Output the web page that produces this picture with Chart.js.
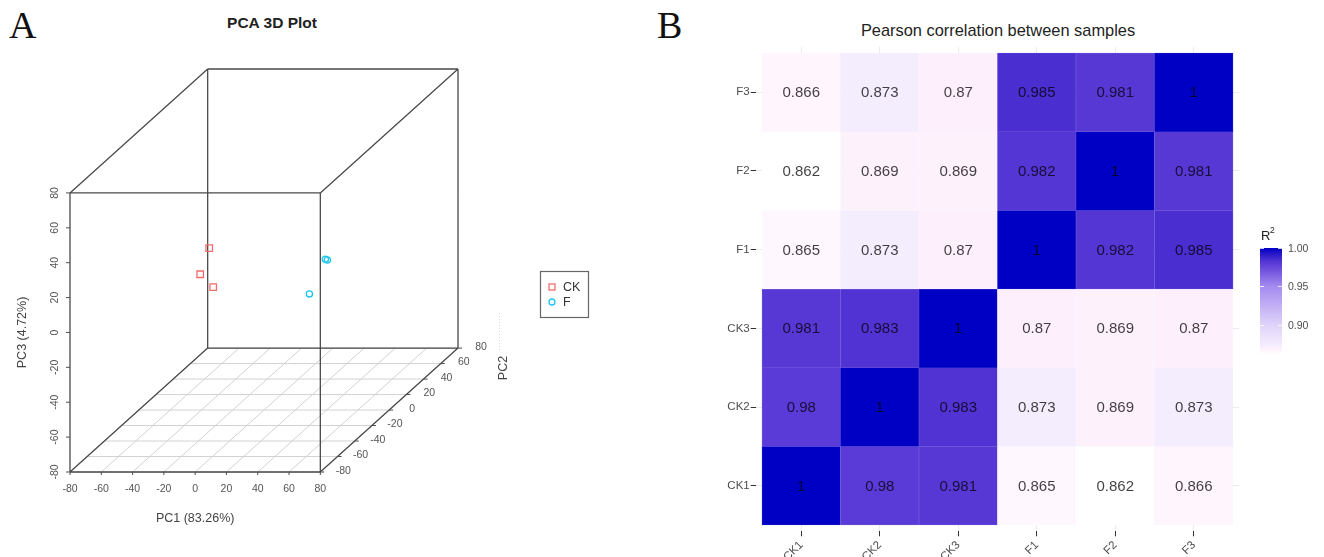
<!DOCTYPE html>
<html>
<head>
<meta charset="utf-8">
<script src="https://cdn.jsdelivr.net/npm/chart.js@4.4.0/dist/chart.umd.min.js"></script>
<style>
  body { margin: 0; width: 1324px; height: 557px; background: #fff; position: relative; overflow: hidden;
         font-family: 'Liberation Sans', Arial, sans-serif; }
  .letter { position: absolute; font-family: 'Liberation Serif', 'Times New Roman', serif; font-size: 38px; line-height: 1; color: #111; }
  .title { position: absolute; transform: translateX(-50%); white-space: nowrap; line-height: 1; color: #222; }
  canvas { position: absolute; top: 0; }
</style>
</head>
<body>
<div class="letter" style="left:9px;top:6px">A</div>
<div class="letter" style="left:657px;top:6px">B</div>
<div class="title" style="left:272px;top:15px;font-weight:bold;font-size:15.5px">PCA 3D Plot</div>
<div class="title" style="left:998px;top:22px;font-size:16.4px">Pearson correlation between samples</div>
<canvas id="pca" style="left:0" width="640" height="557"></canvas>
<canvas id="heat" style="left:650px" width="674" height="557"></canvas>

<script>
// PCA scores
const pcaTicks = [-80, -60, -40, -20, 0, 20, 40, 60, 80];
const ckPC1 = [-48, -52, -47];
const ckPC2 = [23.6, 20.4, 26.4];
const ckPC3 = [2.3, -11.2, -21.2];
const fPC1 = [49, 50, 48];
const fPC2 = [-17.8, -17.3, -34.5];
const fPC3 = [14.4, 13.7, 1.9];

// Pearson correlation, one array per row (bottom to top)
const sampleNames = ['CK1', 'CK2', 'CK3', 'F1', 'F2', 'F3'];
const rCK1 = [1, 0.98, 0.981, 0.865, 0.862, 0.866];
const rCK2 = [0.98, 1, 0.983, 0.873, 0.869, 0.873];
const rCK3 = [0.981, 0.983, 1, 0.87, 0.869, 0.87];
const rF1 = [0.865, 0.873, 0.87, 1, 0.982, 0.985];
const rF2 = [0.862, 0.869, 0.869, 0.982, 1, 0.981];
const rF3 = [0.866, 0.873, 0.87, 0.985, 0.981, 1];
const barTicks = [0.90, 0.95, 1.00];

const FONT = '"Liberation Sans", Arial, sans-serif';

// === PCA 3D (oblique projection, like scatterplot3d) ===
const LO = pcaTicks[0], HI = pcaTicks[pcaTicks.length - 1];
const DX = 0.55, DY = 0.444;   // depth shift per PC2 unit
const proj = (a, b, c) => ({ x: a + (b - LO) * DX, y: c + (b - LO) * DY });
const GAP = { x: null, y: null };

const floor = [];
pcaTicks.forEach(t => {
  floor.push(proj(LO, t, LO), proj(HI, t, LO), GAP);
  floor.push(proj(t, LO, LO), proj(t, HI, LO), GAP);
});

const edges = [];
[LO, HI].forEach(u => [LO, HI].forEach(v => {
  edges.push(proj(LO, u, v), proj(HI, u, v), GAP);
  edges.push(proj(u, LO, v), proj(u, HI, v), GAP);
  edges.push(proj(u, v, LO), proj(u, v, HI), GAP);
}));

const ckPts = ckPC1.map((p, i) => proj(p, ckPC2[i], ckPC3[i]));
const fPts = fPC1.map((p, i) => proj(p, fPC2[i], fPC3[i]));

const CK_COL = '#f36b6b', F_COL = '#1cc6f0';

const pcaAxes = {
  id: 'pcaAxes',
  afterDatasetsDraw(chart) {
    const { ctx, scales: { x, y } } = chart;
    const at = (a, b, c) => { const p = proj(a, b, c); return [x.getPixelForValue(p.x), y.getPixelForValue(p.y)]; };
    const line = (x1, y1, x2, y2) => { ctx.beginPath(); ctx.moveTo(x1, y1); ctx.lineTo(x2, y2); ctx.stroke(); };
    ctx.save();
    ctx.strokeStyle = '#4d4d4d';
    ctx.lineWidth = 1;
    ctx.fillStyle = '#555';
    ctx.font = '10.5px ' + FONT;
    ctx.textAlign = 'center';
    ctx.textBaseline = 'middle';
    pcaTicks.forEach(t => {
      let [px, py] = at(t, LO, LO);
      line(px, py, px, py + 3);
      ctx.fillText(String(t), px, py + 17);

      [px, py] = at(LO, LO, t);
      line(px - 4, py, px, py);
      ctx.save();
      ctx.translate(px - 15, py);
      ctx.rotate(-Math.PI / 2);
      ctx.fillText(String(t), 0, 0);
      ctx.restore();

      [px, py] = at(HI, t, LO);
      line(px, py, px + 4, py);
      ctx.fillText(String(t), px + 23, py - 1);
    });

    // axis titles
    ctx.fillStyle = '#444';
    ctx.font = '12.5px ' + FONT;
    const [bx0] = at(LO, LO, LO), [bx1, by] = at(HI, LO, LO);
    ctx.fillText('PC1 (83.26%)', (bx0 + bx1) / 2, by + 47);
    const [lx, ly0] = at(LO, LO, LO), [, ly1] = at(LO, LO, HI);
    ctx.save();
    ctx.translate(lx - 47, (ly0 + ly1) / 2);
    ctx.rotate(-Math.PI / 2);
    ctx.fillText('PC3 (4.72%)', 0, 0);
    ctx.restore();
    ctx.save();
    ctx.translate(504, 368);
    ctx.rotate(-Math.PI / 2);
    ctx.fillText('PC2', 0, 0);
    ctx.restore();
    ctx.strokeStyle = '#d8d8d8';
    ctx.setLineDash([1, 2]);
    line(499.5, 313, 499.5, 352);
    ctx.setLineDash([]);

    // legend
    ctx.strokeStyle = '#666';
    ctx.lineWidth = 1.2;
    ctx.strokeRect(540.5, 271.5, 48, 46);
    ctx.lineWidth = 1.3;
    ctx.strokeStyle = CK_COL;
    ctx.strokeRect(549, 284, 6, 6);
    ctx.strokeStyle = F_COL;
    ctx.beginPath(); ctx.arc(552, 302, 3, 0, Math.PI * 2); ctx.stroke();
    ctx.fillStyle = '#333';
    ctx.textAlign = 'left';
    ctx.font = '12.5px ' + FONT;
    ctx.fillText('CK', 563, 287.5);
    ctx.fillText('F', 563, 302.5);
    ctx.restore();
  }
};

new Chart(document.getElementById('pca'), {
  type: 'scatter',
  data: {
    datasets: [
      { data: ckPts, pointStyle: 'rect', pointRadius: 4.6, pointBorderWidth: 1.3,
        pointBorderColor: CK_COL, pointBackgroundColor: 'rgba(0,0,0,0)', clip: false },
      { data: fPts, pointStyle: 'circle', pointRadius: 3.1, pointBorderWidth: 1.3,
        pointBorderColor: F_COL, pointBackgroundColor: 'rgba(0,0,0,0)', clip: false },
      { data: edges, showLine: true, pointRadius: 0, borderColor: '#4a4a4a', borderWidth: 1.3, clip: false },
      { data: floor, showLine: true, pointRadius: 0, borderColor: '#d2d2d2', borderWidth: 1, clip: false }
    ]
  },
  options: {
    responsive: false, animation: false, events: [], devicePixelRatio: 1,
    layout: { padding: { left: 70, right: 182, top: 69, bottom: 85 } },
    scales: {
      x: { type: 'linear', display: false, min: LO, max: HI + (HI - LO) * DX },
      y: { type: 'linear', display: false, min: LO, max: HI + (HI - LO) * DY }
    },
    plugins: { legend: { display: false }, tooltip: { enabled: false } }
  },
  plugins: [pcaAxes]
});

// === Correlation heatmap ===
const corrRows = [rCK1, rCK2, rCK3, rF1, rF2, rF3];
const cells = [];
corrRows.forEach((row, r) => row.forEach((v, c) => cells.push({ x: c + 0.5, y: [r, r + 1], v })));

const ramp = [
  [0.862, [255, 255, 255]],
  [0.866, [254, 245, 253]],
  [0.870, [253, 240, 252]],
  [0.873, [244, 237, 253]],
  [0.900, [223, 211, 250]],
  [0.950, [164, 139, 239]],
  [0.980, [90, 59, 215]],
  [0.985, [74, 46, 207]],
  [1.000, [0, 0, 196]]
];
function rampColor(v) {
  if (v <= ramp[0][0]) return ramp[0][1];
  for (let i = 1; i < ramp.length; i++) {
    if (v <= ramp[i][0]) {
      const [v0, c0] = ramp[i - 1], [v1, c1] = ramp[i];
      const t = (v - v0) / (v1 - v0);
      return c0.map((c, k) => Math.round(c + (c1[k] - c) * t));
    }
  }
  return ramp[ramp.length - 1][1];
}
const rgb = c => `rgb(${c[0]},${c[1]},${c[2]})`;
const lighten = (c, f) => c.map(k => Math.round(k + (255 - k) * f));

const cellText = {
  id: 'cellText',
  afterDatasetsDraw(chart) {
    const { ctx } = chart;
    const meta = chart.getDatasetMeta(0);
    ctx.save();
    ctx.font = '15px ' + FONT;
    ctx.fillStyle = 'rgba(0,0,0,0.75)';
    ctx.textAlign = 'center';
    ctx.textBaseline = 'middle';
    meta.data.forEach((bar, i) => {
      const { x, y, base } = bar.getProps(['x', 'y', 'base'], true);
      ctx.fillText(String(cells[i].v), x, (y + base) / 2 + 1);
    });
    ctx.restore();
  }
};

const colorBar = {
  id: 'colorBar',
  afterDraw(chart) {
    const { ctx } = chart;
    const left = 610, w = 22, top = 248, h = 106;
    const vals = cells.map(c => c.v);
    const vmin = Math.min(...vals), vmax = Math.max(...vals);
    const yOf = v => top + (vmax - v) / (vmax - vmin) * h;
    ctx.save();
    for (let i = 0; i < h; i++) {
      const v = vmax - (i + 0.5) / h * (vmax - vmin);
      ctx.fillStyle = rgb(rampColor(v));
      ctx.fillRect(left, top + i, w, 1);
    }
    ctx.strokeStyle = 'rgba(255,255,255,0.8)';
    ctx.lineWidth = 1;
    ctx.fillStyle = '#4d4d4d';
    ctx.font = '10.5px ' + FONT;
    ctx.textAlign = 'left';
    ctx.textBaseline = 'middle';
    barTicks.forEach(t => {
      const yy = Math.round(yOf(t)) + 0.5;
      ctx.beginPath();
      ctx.moveTo(left, yy); ctx.lineTo(left + 4, yy);
      ctx.moveTo(left + w - 4, yy); ctx.lineTo(left + w, yy);
      ctx.stroke();
      ctx.fillText(t.toFixed(2), left + w + 6, yOf(t) + 1);
    });
    ctx.fillStyle = '#222';
    ctx.textBaseline = 'alphabetic';
    ctx.font = '13px ' + FONT;
    ctx.fillText('R', left + 1, 240);
    ctx.font = '8.5px ' + FONT;
    ctx.fillText('2', left + 10, 233);
    ctx.restore();
  }
};

const centreTicks = s => { s.ticks = sampleNames.map((n, i) => ({ value: i + 0.5 })); };
const tickFont = { family: FONT, size: 11.5 };

new Chart(document.getElementById('heat'), {
  type: 'bar',
  data: {
    datasets: [{
      data: cells,
      backgroundColor: c => rgb(rampColor(c.raw.v)),
      borderColor: c => rgb(lighten(rampColor(c.raw.v), 0.2)),
      borderWidth: 0.6,
      borderSkipped: false,
      barPercentage: 1,
      categoryPercentage: 1
    }]
  },
  options: {
    responsive: false, animation: false, events: [], devicePixelRatio: 1,
    layout: { padding: { left: 65.7, right: 84.7, top: 46.7, bottom: 0 } },
    scales: {
      x: {
        type: 'linear', min: -0.08, max: 6.08, offset: false,
        afterBuildTicks: centreTicks,
        afterFit: s => { s.height = 25.7; s.paddingLeft = 0; s.paddingRight = 0; },
        ticks: { callback: v => sampleNames[Math.round(v - 0.5)], autoSkip: false,
                 maxRotation: 45, minRotation: 45, padding: 2, color: '#4d4d4d', font: tickFont },
        grid: { offset: false, color: '#ebebeb', tickColor: '#333', tickLength: 5 },
        border: { display: false }
      },
      y: {
        type: 'linear', min: -0.08, max: 6.08, offset: false,
        afterBuildTicks: centreTicks,
        afterFit: s => { s.width = 40; s.paddingTop = 0; s.paddingBottom = 0; },
        ticks: { callback: v => sampleNames[Math.round(v - 0.5)], autoSkip: false,
                 padding: 1, color: '#4d4d4d', font: tickFont },
        grid: { offset: false, color: '#ebebeb', tickColor: '#333', tickLength: 5 },
        border: { display: false }
      }
    },
    plugins: { legend: { display: false }, tooltip: { enabled: false } }
  },
  plugins: [cellText, colorBar]
});
</script>
</body>
</html>
